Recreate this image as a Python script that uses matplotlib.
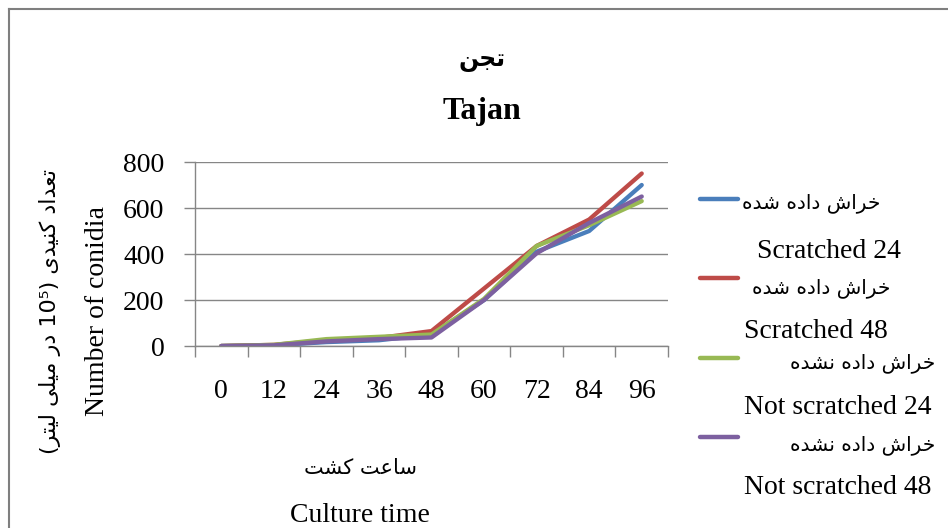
import matplotlib
matplotlib.use("Agg")
import matplotlib.pyplot as plt
from matplotlib.lines import Line2D

# ---------------- data ----------------
hours = ["0", "12", "24", "36", "48", "60", "72", "84", "96"]
scratched_24 = [0, 3, 17, 25, 50, 200, 410, 500, 700]
scratched_48 = [0, 5, 25, 35, 65, 250, 435, 550, 750]
not_scratched_24 = [0, 5, 30, 40, 50, 205, 435, 525, 630]
not_scratched_48 = [0, 3, 20, 30, 37, 200, 403, 535, 650]
yticks = [0, 200, 400, 600, 800]

series_en = ["Scratched 24", "Scratched 48", "Not scratched 24", "Not scratched 48"]
series_fa = ["خراش داده شده", "خراش داده شده", "خراش داده نشده", "خراش داده نشده"]
series_vals = [scratched_24, scratched_48, not_scratched_24, not_scratched_48]
colors = ["#4A7EBB", "#BE4B48", "#98B954", "#7D60A0"]

title_fa = "تجن"
title_en = "Tajan"
xlabel_fa = "ساعت کشت"
xlabel_en = "Culture time"
ylabel_fa = "تعداد کنیدی (10⁵ در میلی لیتر)"
ylabel_en = "Number of conidia"

# ------------- minimal Arabic/Persian shaping (presentation forms, visual order) -------------
FORMS = {  # iso, final, initial, medial
    "ا": (0xFE8D, 0xFE8E, None, None),
    "ت": (0xFE95, 0xFE96, 0xFE97, 0xFE98),
    "ج": (0xFE9D, 0xFE9E, 0xFE9F, 0xFEA0),
    "خ": (0xFEA5, 0xFEA6, 0xFEA7, 0xFEA8),
    "د": (0xFEA9, 0xFEAA, None, None),
    "ر": (0xFEAD, 0xFEAE, None, None),
    "س": (0xFEB1, 0xFEB2, 0xFEB3, 0xFEB4),
    "ش": (0xFEB5, 0xFEB6, 0xFEB7, 0xFEB8),
    "ع": (0xFEC9, 0xFECA, 0xFECB, 0xFECC),
    "ک": (0xFB8E, 0xFB8F, 0xFB90, 0xFB91),
    "ل": (0xFEDD, 0xFEDE, 0xFEDF, 0xFEE0),
    "م": (0xFEE1, 0xFEE2, 0xFEE3, 0xFEE4),
    "ن": (0xFEE5, 0xFEE6, 0xFEE7, 0xFEE8),
    "ه": (0xFEE9, 0xFEEA, 0xFEEB, 0xFEEC),
    "ی": (0xFBFC, 0xFBFD, 0xFBFE, 0xFBFF),
}


def shape_word(w):
    out = []
    n = len(w)
    for i, ch in enumerate(w):
        if ch not in FORMS:
            out.append(ch)
            continue
        f = FORMS[ch]
        prev = w[i - 1] if i > 0 else None
        nxt = w[i + 1] if i + 1 < n else None
        joins_prev = prev in FORMS and FORMS[prev][2] is not None
        joins_next = nxt in FORMS and f[2] is not None
        if joins_prev and joins_next:
            code = f[3]
        elif joins_prev:
            code = f[1]
        elif joins_next:
            code = f[2]
        else:
            code = f[0]
        out.append(chr(code))
    return "".join(out)


MIRROR = {"(": ")", ")": "("}


def rtl(text):
    tokens = text.split(" ")
    vis = []
    for t in tokens:
        if any(c in FORMS for c in t):
            core = t
            lead = ""
            trail = ""
            while core and core[0] in MIRROR:
                lead += MIRROR[core[0]]
                core = core[1:]
            while core and core[-1] in MIRROR:
                trail = MIRROR[core[-1]] + trail
                core = core[:-1]
            vis.append(trail[::-1] + shape_word(core)[::-1] + lead[::-1])
        else:
            lead = ""
            trail = ""
            core = t
            while core and core[0] in MIRROR:
                lead += MIRROR[core[0]]
                core = core[1:]
            while core and core[-1] in MIRROR:
                trail = MIRROR[core[-1]] + trail
                core = core[:-1]
            vis.append(trail[::-1] + core + lead[::-1])
    return " ".join(vis[::-1])


# ---------------- figure ----------------
W, H = 948, 528
fig = plt.figure(figsize=(W / 100, H / 100), dpi=100)
fig.patch.set_facecolor("white")


def fx(px):
    return px / W


def fy(py):
    return 1 - py / H


SERIF = ["Liberation Serif", "DejaVu Serif"]
SANS = ["DejaVu Sans"]
grid_c = "#868686"

# outer frame (left & top visible)
fig.add_artist(Line2D([fx(8.5), fx(8.5)], [fy(9), fy(540)], transform=fig.transFigure,
                      color="#7f7f7f", lw=1.5))
fig.add_artist(Line2D([fx(8.5), fx(960)], [fy(9), fy(9)], transform=fig.transFigure,
                      color="#7f7f7f", lw=1.5))

ax = fig.add_axes([fx(195), fy(346), fx(668) - fx(195), fy(162) - fy(346)])
x = list(range(len(hours)))
for vals, c in zip(series_vals, colors):
    ax.plot(x, vals, color=c, lw=3.1, solid_capstyle="round", solid_joinstyle="round")

ax.set_xlim(-0.5, len(hours) - 0.5)
ax.set_ylim(0, 800)
ax.set_yticks(yticks)
ax.set_yticklabels([str(v) for v in yticks], fontfamily=SERIF, fontsize=20)
ax.set_xticks(x)
ax.set_xticklabels(hours, fontfamily=SERIF, fontsize=20)
ax.set_xticks([i - 0.5 for i in range(len(hours) + 1)], minor=True)
ax.tick_params(axis="x", which="major", length=0, pad=24)
ax.tick_params(axis="x", which="minor", length=8, color=grid_c, width=1)
ax.tick_params(axis="y", length=8, color=grid_c, width=1, pad=14)
ax.grid(axis="y", color=grid_c, lw=1)
ax.set_axisbelow(True)
for s in ["top", "right"]:
    ax.spines[s].set_visible(False)
ax.spines["left"].set_color(grid_c)
ax.spines["bottom"].set_color(grid_c)
ax.spines["left"].set_linewidth(1)
ax.spines["bottom"].set_linewidth(1)

# titles
fig.text(fx(482), fy(60), rtl(title_fa), ha="center", va="center", fontfamily=SANS,
         fontsize=17, fontweight="bold")
fig.text(fx(482), fy(112), title_en, ha="center", va="center", fontfamily=SERIF,
         fontsize=23, fontweight="bold")

# axis labels
fig.text(fx(360), fy(468), rtl(xlabel_fa), ha="center", va="center", fontfamily=SANS, fontsize=15)
fig.text(fx(360), fy(515), xlabel_en, ha="center", va="center", fontfamily=SERIF, fontsize=20)
fig.text(fx(50), fy(312), rtl(ylabel_fa), ha="center", va="center", rotation=90,
         fontfamily=SANS, fontsize=16)
fig.text(fx(97), fy(311), ylabel_en, ha="center", va="center", rotation=90,
         fontfamily=SERIF, fontsize=20)

# manual legend
handle_y = [199, 278, 358, 437]
fa_right = [880, 890, 935, 935]
fa_y = [203, 288, 363, 445]
en_x = [829, 816, 838, 838]
en_y = [252, 332, 408, 488]
for i in range(len(series_en)):
    fig.add_artist(Line2D([fx(700), fx(738)], [fy(handle_y[i])] * 2, transform=fig.transFigure,
                          color=colors[i], lw=3.2, solid_capstyle="round"))
    fig.text(fx(fa_right[i]), fy(fa_y[i]), rtl(series_fa[i]), ha="right", va="center",
             fontfamily=SANS, fontsize=14.5)
    fig.text(fx(en_x[i]), fy(en_y[i]), series_en[i], ha="center", va="center",
             fontfamily=SERIF, fontsize=20)

fig.savefig("out.png", dpi=100)
